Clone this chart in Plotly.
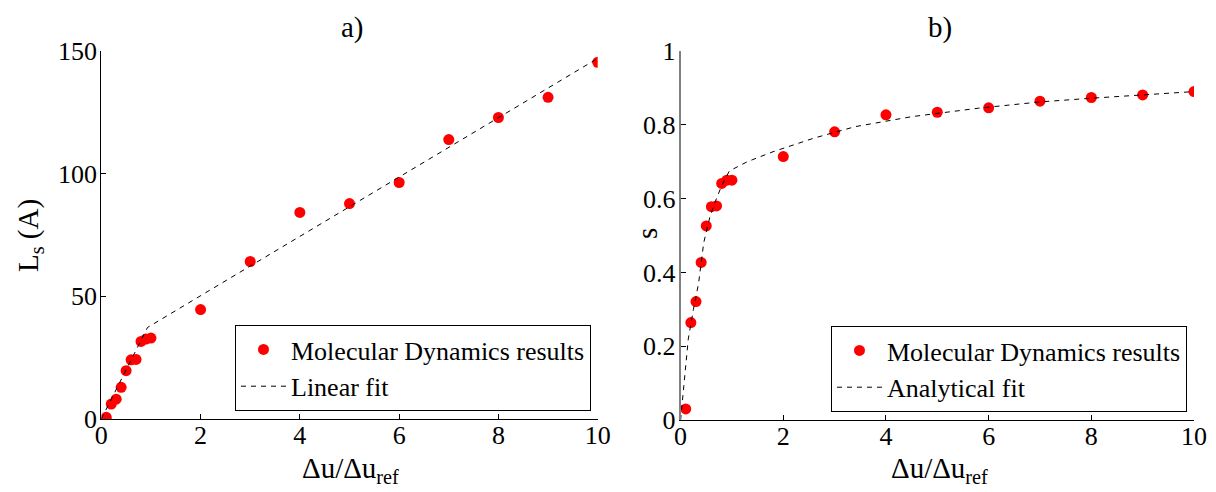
import plotly.graph_objects as go

# ---- Data: panel a) ----
du_a = [0.1, 0.2, 0.3, 0.4, 0.5, 0.6, 0.7, 0.8, 0.9, 1.0, 2, 3, 4, 5, 6, 7, 8, 9, 10]
ls_md = [0.7, 6.1, 8.1, 12.9, 19.7, 24.1, 24.3, 31.6, 32.6, 33.0, 44.6, 64.2, 84.2, 87.8, 96.4, 113.9, 122.9, 131.1, 145.4]
fit_a_x = [0, 0.93, 10]
fit_a_y = [0, 37.3, 147]

# ---- Data: panel b) ----
du_b = [0.1, 0.2, 0.3, 0.4, 0.5, 0.6, 0.7, 0.8, 0.9, 1.0, 2, 3, 4, 5, 6, 7, 8, 9, 10]
s_md = [0.030, 0.264, 0.321, 0.427, 0.526, 0.578, 0.580, 0.641, 0.650, 0.650, 0.714, 0.781, 0.827, 0.834, 0.846, 0.864, 0.874, 0.881, 0.890]
fit_b_x = [0, 0.05, 0.1, 0.15, 0.25, 0.35, 0.45, 0.57, 0.67, 0.8, 0.95, 1.3, 1.8, 2.6, 3.4, 4.5, 5.8, 7, 8, 9, 10]
fit_b_y = [0, 0.07, 0.15, 0.22, 0.30, 0.37, 0.48, 0.55, 0.59, 0.635, 0.675, 0.70, 0.727, 0.764, 0.795, 0.822, 0.845, 0.862, 0.872, 0.880, 0.890]

FONT = "Liberation Serif"
FS_TICK = 26
FS_LEG = 26
FS_TITLE = 29

fig = go.Figure()
fig.add_trace(go.Scatter(x=du_a, y=ls_md, mode="markers", name="Molecular Dynamics results",
                         marker=dict(color="#ff0000", size=11), xaxis="x", yaxis="y", legend="legend"))
fig.add_trace(go.Scatter(x=fit_a_x, y=fit_a_y, mode="lines", name="Linear fit",
                         line=dict(color="black", width=1, dash="5px,5px"), xaxis="x", yaxis="y", legend="legend"))
fig.add_trace(go.Scatter(x=du_b, y=s_md, mode="markers", name="Molecular Dynamics results",
                         marker=dict(color="#ff0000", size=11), xaxis="x2", yaxis="y2", legend="legend2"))
fig.add_trace(go.Scatter(x=fit_b_x, y=fit_b_y, mode="lines", name="Analytical fit",
                         line=dict(color="black", width=1, dash="5px,5px"), xaxis="x2", yaxis="y2", legend="legend2"))

# page body has an 8px default margin: figure is 1208x484 placed at (8, 8)
OFF = 8
W, H = 1216 - OFF, 492 - OFF
def px(v): return (v - OFF) / W
def py(v): return 1 - (v - OFF) / H

axis_common = dict(showgrid=False, zeroline=False, showline=True, linecolor="black", linewidth=1,
                   ticks="inside", ticklen=5, tickcolor="black", mirror=False, automargin=False,
                   tickfont=dict(family=FONT, size=FS_TICK, color="black"))
xax = dict(**axis_common, ticklabelstandoff=-7)
yax = dict(**axis_common, ticklabelstandoff=-2)

fig.update_layout(
    template="none",
    width=W, height=H, margin=dict(l=0, r=0, t=0, b=0, pad=0),
    paper_bgcolor="white", plot_bgcolor="white",
    font=dict(family=FONT, size=FS_TICK, color="black"),
    xaxis=dict(domain=[px(101.3), px(597.7)], range=[0, 10], tickvals=[0, 2, 4, 6, 8, 10],
               anchor="y", **xax),
    yaxis=dict(domain=[py(419), py(51)], range=[0, 150], tickvals=[0, 50, 100, 150],
               anchor="x", **yax),
    xaxis2=dict(domain=[px(680.6), px(1194)], range=[0, 10], tickvals=[0, 2, 4, 6, 8, 10],
                anchor="y2", **xax),
    yaxis2=dict(domain=[py(420), py(51)], range=[0, 1], tickvals=[0, 0.2, 0.4, 0.6, 0.8, 1],
                ticktext=["0", "0.2", "0.4", "0.6", "0.8", "1"],
                anchor="x2", **{**yax, "linecolor": "#808080", "linewidth": 2}),
    legend=dict(x=px(591), y=py(411), xanchor="right", yanchor="bottom", itemwidth=45,
                bordercolor="black", borderwidth=1, bgcolor="white",
                font=dict(family=FONT, size=FS_LEG, color="black"), tracegroupgap=0),
    legend2=dict(x=px(1187), y=py(412), xanchor="right", yanchor="bottom", itemwidth=45,
                 bordercolor="black", borderwidth=1, bgcolor="white",
                 font=dict(family=FONT, size=FS_LEG, color="black"), tracegroupgap=0),
    showlegend=True,
)

ann = [
    dict(text="a)", x=px(352), y=py(28), xanchor="center", yanchor="middle"),
    dict(text="b)", x=px(940), y=py(28), xanchor="center", yanchor="middle"),
    dict(text="Δu/Δu<sub>ref</sub>", x=px(350), y=py(490), xanchor="center", yanchor="bottom"),
    dict(text="Δu/Δu<sub>ref</sub>", x=px(939), y=py(490), xanchor="center", yanchor="bottom"),
    dict(text="L<sub>s</sub> (A)", x=px(30), y=py(236), xanchor="center", yanchor="middle", textangle=-90),
    dict(text="s", x=px(647), y=py(234), xanchor="center", yanchor="middle", textangle=-90),
]
for a in ann:
    a.update(xref="paper", yref="paper", showarrow=False,
             font=dict(family=FONT, size=FS_TITLE, color="black"))
fig.update_layout(annotations=ann)

fig.write_html("out.html")
